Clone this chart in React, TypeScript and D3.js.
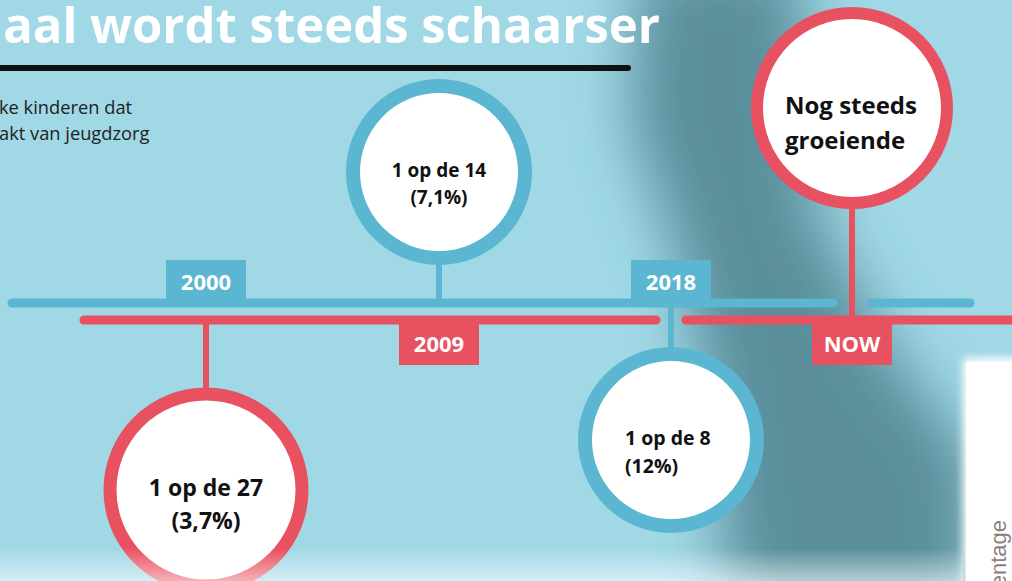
import React from "react";
import * as d3 from "d3";

// timeline data (read from the infographic)
const milestones = ["2000", "2009", "2018", "NOW"];
const milestoneYears = [2000, 2009, 2018, 2025];
const ratioText = ["1 op de 27", "1 op de 14", "1 op de 8", "Nog steeds"];
const shareText = ["(3,7%)", "(7,1%)", "(12%)", "groeiende"];
const titleText = "haal wordt steeds schaarser";
const subtitleLines = ["ke kinderen dat", "akt van jeugdzorg"];
const sideNote = "Percentage";

const W = 1012;
const H = 581;
const BLUE = "#5bb6d1";
const RED = "#e8515f";
const BG = "#a0d8e6";

const blueY = 303;
const redY = 320;

// layout per milestone: which track holds the year box, the circle colour and placement
const layout = [
  { box: "blue", ring: "red", cy: 490, r: 96, stroke: 13, font: 23, align: "middle", dx: 0 },
  { box: "red", ring: "blue", cy: 172, r: 86, stroke: 14, font: 19, align: "middle", dx: 0 },
  { box: "blue", ring: "blue", cy: 440, r: 86, stroke: 14, font: 19.5, align: "start", dx: -46 },
  { box: "red", ring: "red", cy: 108, r: 95, stroke: 12, font: 24, align: "start", dx: -67 },
];

const App = () => {
  const x = d3.scaleLinear().domain([2000, 2025]).range([206, 852]);
  const pos = milestoneYears.map((y) => Math.round(x(y)));

  // connectors cross the other track, so that track gets a gap there
  const crossBlue = pos.filter((p, i) => layout[i].ring === "red" && layout[i].cy < blueY);
  const crossRed = pos.filter((p, i) => layout[i].ring === "blue" && layout[i].cy > redY);

  const segments = (start: number, end: number, gaps: number[], half: number) => {
    const out: [number, number][] = [];
    let s = start;
    gaps.sort((a, b) => a - b).forEach((g) => {
      out.push([s, g - half]);
      s = g + half;
    });
    out.push([s, end]);
    return out;
  };
  const blueSegs = segments(12, 970, crossBlue, 19);
  const redSegs = segments(84, W + 20, crossRed, 15);

  const boxW = 80;
  const boxH = 43;

  return (
    <svg
      width={W}
      height={H}
      style={{ position: "fixed", left: 0, top: 0, display: "block" }}
      fontFamily="'Open Sans', sans-serif"
    >
      <defs>
        <filter id="blur" x="-50%" y="-50%" width="200%" height="200%">
          <feGaussianBlur stdDeviation="30" />
        </filter>
        <filter id="soft" x="-50%" y="-20%" width="200%" height="140%">
          <feGaussianBlur stdDeviation="4" />
        </filter>
        <linearGradient id="bottomFade" x1="0" y1="0" x2="0" y2="1">
          <stop offset="0" stopColor="#ffffff" stopOpacity="0" />
          <stop offset="1" stopColor="#ffffff" stopOpacity="0.55" />
        </linearGradient>
      </defs>

      <rect width={W} height={H} fill={BG} />
      {/* photo shadow */}
      <path
        d="M640,-40 L800,-40 L815,210 L890,350 L975,460 L975,640 L735,640 L705,380 L675,250 L630,120 Z"
        fill="#4a7d89"
        opacity={0.8}
        filter="url(#blur)"
      />

      {/* title */}
      <text x={660} y={43} textAnchor="end" fill="#fff" fontSize={49} fontWeight={700}>
        {titleText}
      </text>
      <line x1={-10} x2={628} y1={68} y2={68} stroke="#111" strokeWidth={6} strokeLinecap="round" />
      {subtitleLines.map((t, i) => (
        <text key={t} x={-1} y={114 + i * 26} fill="#222" fontSize={18.3}>
          {t}
        </text>
      ))}

      {/* tracks */}
      {blueSegs.map(([a, b], i) => (
        <line key={"b" + i} x1={a} x2={b} y1={blueY} y2={blueY} stroke={BLUE} strokeWidth={9} strokeLinecap="round" />
      ))}
      {redSegs.map(([a, b], i) => (
        <line key={"r" + i} x1={a} x2={b} y1={redY} y2={redY} stroke={RED} strokeWidth={9} strokeLinecap="round" />
      ))}

      {milestones.map((m, i) => {
        const l = layout[i];
        const cx = pos[i];
        const ringColor = l.ring === "blue" ? BLUE : RED;
        const trackY = l.ring === "blue" ? blueY : redY;
        const edge = l.cy < trackY ? l.cy + l.r : l.cy - l.r;
        const boxColor = l.box === "blue" ? BLUE : RED;
        const boxTop = l.box === "blue" ? blueY - boxH : redY + 2;
        const tx = cx + l.dx;
        return (
          <g key={m}>
            <line x1={cx} x2={cx} y1={trackY} y2={edge} stroke={ringColor} strokeWidth={6} />
            <circle cx={cx} cy={l.cy} r={l.r} fill="#fff" stroke={ringColor} strokeWidth={l.stroke} />
            <text x={tx} y={l.cy + l.font * 0.35 - 2} textAnchor={l.align} fontSize={l.font} fontWeight={700} fill="#111">
              {ratioText[i]}
            </text>
            <text x={tx} y={l.cy + l.font * 0.35 + l.font * 1.45 - 2} textAnchor={l.align} fontSize={l.font} fontWeight={700} fill="#111">
              {shareText[i]}
            </text>
            <rect x={cx - boxW / 2} y={boxTop} width={boxW} height={boxH} fill={boxColor} />
            <text x={cx} y={boxTop + 30} textAnchor="middle" fill="#fff" fontSize={22} fontWeight={700}>
              {m}
            </text>
          </g>
        );
      })}

      {/* white card at the lower right */}
      <rect x={963} y={358} width={80} height={260} fill="#fff" filter="url(#soft)" />
      <rect x={966} y={362} width={60} height={240} fill="#fff" />
      <text transform="translate(1006,520) rotate(-90)" textAnchor="end" fontFamily="'Liberation Sans', Arial, sans-serif" fontSize={22} fill="#8a7f7c">
        {sideNote}
      </text>

      <rect x={0} y={548} width={963} height={33} fill="url(#bottomFade)" />
    </svg>
  );
};

export default App;
